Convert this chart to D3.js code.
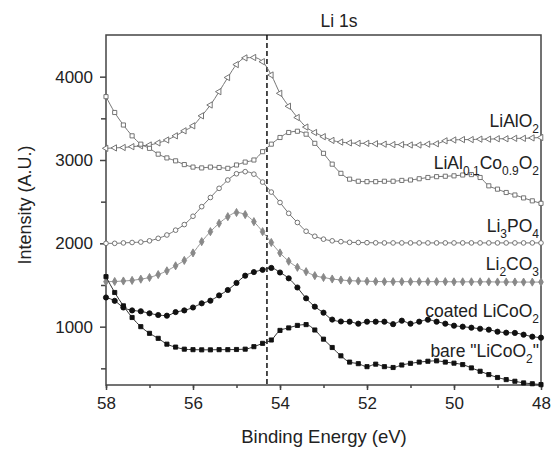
<!DOCTYPE html>
<html><head><meta charset="utf-8">
<script src="https://cdn.jsdelivr.net/npm/d3@7"></script>
<style>body{margin:0;background:#fff}svg text{font-family:"Liberation Sans",Arial,sans-serif}</style>
</head><body><svg id="c" width="552" height="449"></svg>
<script>
const energy = [58.0,57.8,57.6,57.4,57.2,57.0,56.8,56.6,56.4,56.2,56.0,55.8,55.6,55.4,55.2,55.0,54.8,54.6,54.4,54.2,54.0,53.8,53.6,53.4,53.2,53.0,52.8,52.6,52.4,52.2,52.0,51.8,51.6,51.4,51.2,51.0,50.8,50.6,50.4,50.2,50.0,49.8,49.6,49.4,49.2,49.0,48.8,48.6,48.4,48.2,48.0];
const liAlO2 = [3140,3145,3150,3160,3170,3180,3205,3240,3290,3350,3410,3530,3660,3820,3990,4145,4225,4230,4180,4020,3800,3645,3510,3395,3330,3280,3235,3215,3205,3200,3200,3195,3190,3185,3185,3180,3180,3190,3195,3230,3240,3245,3245,3250,3250,3255,3255,3260,3260,3265,3270];
const liAlCoO2 = [3760,3570,3420,3290,3190,3140,3070,3025,2990,2945,2915,2905,2915,2910,2900,2940,2975,3000,3100,3190,3270,3330,3345,3310,3200,3080,2950,2840,2770,2745,2740,2740,2745,2745,2755,2760,2775,2790,2800,2805,2810,2820,2825,2790,2690,2650,2610,2580,2545,2510,2480];
const li3PO4 = [2000,2000,2005,2010,2015,2030,2060,2100,2158,2225,2325,2440,2550,2660,2760,2835,2860,2830,2735,2615,2490,2360,2250,2145,2085,2050,2030,2020,2012,2010,2008,2006,2005,2005,2005,2005,2005,2005,2005,2005,2005,2005,2005,2005,2005,2005,2005,2005,2005,2005,2005];
const li2CO3 = [1540,1542,1548,1555,1570,1590,1625,1670,1730,1795,1885,2020,2140,2240,2320,2370,2345,2260,2140,2010,1885,1785,1712,1660,1612,1590,1572,1560,1552,1548,1545,1542,1540,1540,1540,1540,1540,1540,1540,1540,1538,1538,1538,1538,1538,1536,1536,1536,1535,1535,1535];
const coated = [1350,1310,1230,1195,1185,1160,1140,1132,1175,1195,1230,1280,1312,1375,1440,1525,1612,1655,1682,1705,1650,1580,1470,1340,1240,1168,1085,1062,1060,1036,1060,1060,1060,1030,1072,1036,1060,1084,1060,1036,1012,1000,988,975,964,940,928,925,904,880,868];
const bare = [1600,1410,1250,1110,1000,920,860,790,755,730,724,722,722,724,724,726,730,760,800,840,955,985,1015,1025,960,850,750,650,575,556,520,550,520,510,540,560,575,585,590,575,562,545,505,465,425,390,365,345,325,315,305];
const xTicks = [58,56,54,52,50,48];
const yTicks = [1000,2000,3000,4000];
const refLine = 54.3;

const svg = d3.select("#c");
const m = {l:106, t:35, r:541, b:385};
const x = d3.scaleLinear().domain([58,48]).range([m.l,m.r]);
const y = d3.scaleLinear().domain([300,4500]).range([m.b,m.t]);
const axCol = "#444";

svg.append("rect").attr("x",m.l).attr("y",m.t).attr("width",m.r-m.l).attr("height",m.b-m.t)
  .attr("fill","none").attr("stroke",axCol).attr("stroke-width",1.5);

const gx = svg.append("g").attr("transform",`translate(0,${m.b})`);
gx.call(d3.axisBottom(x).tickValues(d3.range(58,47.5,-1)).tickSize(3).tickFormat(""));
gx.select(".domain").remove();
const gx2 = svg.append("g").attr("transform",`translate(0,${m.b})`);
gx2.call(d3.axisBottom(x).tickValues(xTicks).tickSize(5).tickPadding(7).tickFormat(d3.format("d")));
gx2.select(".domain").remove();
[gx,gx2].forEach(g=>g.selectAll("line").attr("stroke",axCol).attr("stroke-width",1.5));
gx2.selectAll("text").attr("font-size",17).attr("fill","#222");

const gy = svg.append("g").attr("transform",`translate(${m.l},0)`);
gy.call(d3.axisLeft(y).tickValues([500,1500,2500,3500]).tickSize(5).tickFormat(""));
gy.select(".domain").remove();
const gy2 = svg.append("g").attr("transform",`translate(${m.l},0)`);
gy2.call(d3.axisLeft(y).tickValues(yTicks).tickSize(6).tickPadding(7).tickFormat(d3.format("d")));
gy2.select(".domain").remove();
[gy,gy2].forEach(g=>g.selectAll("line").attr("stroke",axCol).attr("stroke-width",1.5));
gy2.selectAll("text").attr("font-size",17).attr("fill","#222");

svg.append("text").attr("x",324).attr("y",443).attr("text-anchor","middle").attr("font-size",18.5).attr("fill","#222").text("Binding Energy (eV)");
svg.append("text").attr("transform","translate(31,205) rotate(-90)").attr("text-anchor","middle").attr("font-size",18).attr("fill","#222").text("Intensity (A.U.)");
svg.append("text").attr("x",339).attr("y",27).attr("text-anchor","middle").attr("font-size",17.5).attr("fill","#222").text("Li 1s");

svg.append("line").attr("x1",x(refLine)).attr("x2",x(refLine)).attr("y1",m.t).attr("y2",m.b)
  .attr("stroke","#111").attr("stroke-width",1.5).attr("stroke-dasharray","5,3");

const series = [
  {v:liAlO2, sym:d3.symbolTriangle, rot:-90, size:17, fill:"#fff", stroke:"#666", line:"#777"},
  {v:liAlCoO2, sym:d3.symbolSquare, rot:0, size:17, fill:"#fff", stroke:"#666", line:"#777"},
  {v:li3PO4, sym:d3.symbolCircle, rot:0, size:17, fill:"#fff", stroke:"#666", line:"#777"},
  {v:li2CO3, sym:d3.symbolDiamond, rot:0, size:19, fill:"#888", stroke:"#888", line:"#999"},
  {v:coated, sym:d3.symbolCircle, rot:0, size:21, fill:"#111", stroke:"#111", line:"#333"},
  {v:bare, sym:d3.symbolSquare, rot:0, size:17, fill:"#111", stroke:"#111", line:"#333"}
];
const line = d3.line().x((d,i)=>x(energy[i])).y(d=>y(d)).curve(d3.curveMonotoneX);
series.forEach(s=>{
  svg.append("path").attr("d",line(s.v)).attr("fill","none").attr("stroke",s.line).attr("stroke-width",1);
  svg.append("g").selectAll("path").data(s.v).join("path")
    .attr("d",d3.symbol().type(s.sym).size(s.size))
    .attr("transform",(d,i)=>`translate(${x(energy[i])},${y(d)}) rotate(${s.rot})`)
    .attr("fill",s.fill).attr("stroke",s.stroke).attr("stroke-width",0.9);
});

const labels = [
  {parts:[["LiAlO",0],["2",1]], y:127},
  {parts:[["LiAl",0],["0.1",1],["Co",0],["0.9",1],["O",0],["2",1]], y:169},
  {parts:[["Li",0],["3",1],["PO",0],["4",1]], y:232},
  {parts:[["Li",0],["2",1],["CO",0],["3",1]], y:270},
  {parts:[["coated LiCoO",0],["2",1]], y:317},
  {parts:[["bare \"LiCoO",0],["2",1],["\"",0]], y:357}
];
labels.forEach(l=>{
  const t = svg.append("text").attr("x",539).attr("y",l.y).attr("text-anchor","end").attr("fill","#222").attr("font-size",17.5);
  let prevSub = false;
  l.parts.forEach(([s,sub])=>{
    const ts = t.append("tspan").text(s);
    if(sub){ ts.attr("font-size",12).attr("dy",prevSub?0:6); }
    else if(prevSub){ ts.attr("dy",-6); }
    prevSub = !!sub;
  });
});
</script></body></html>
